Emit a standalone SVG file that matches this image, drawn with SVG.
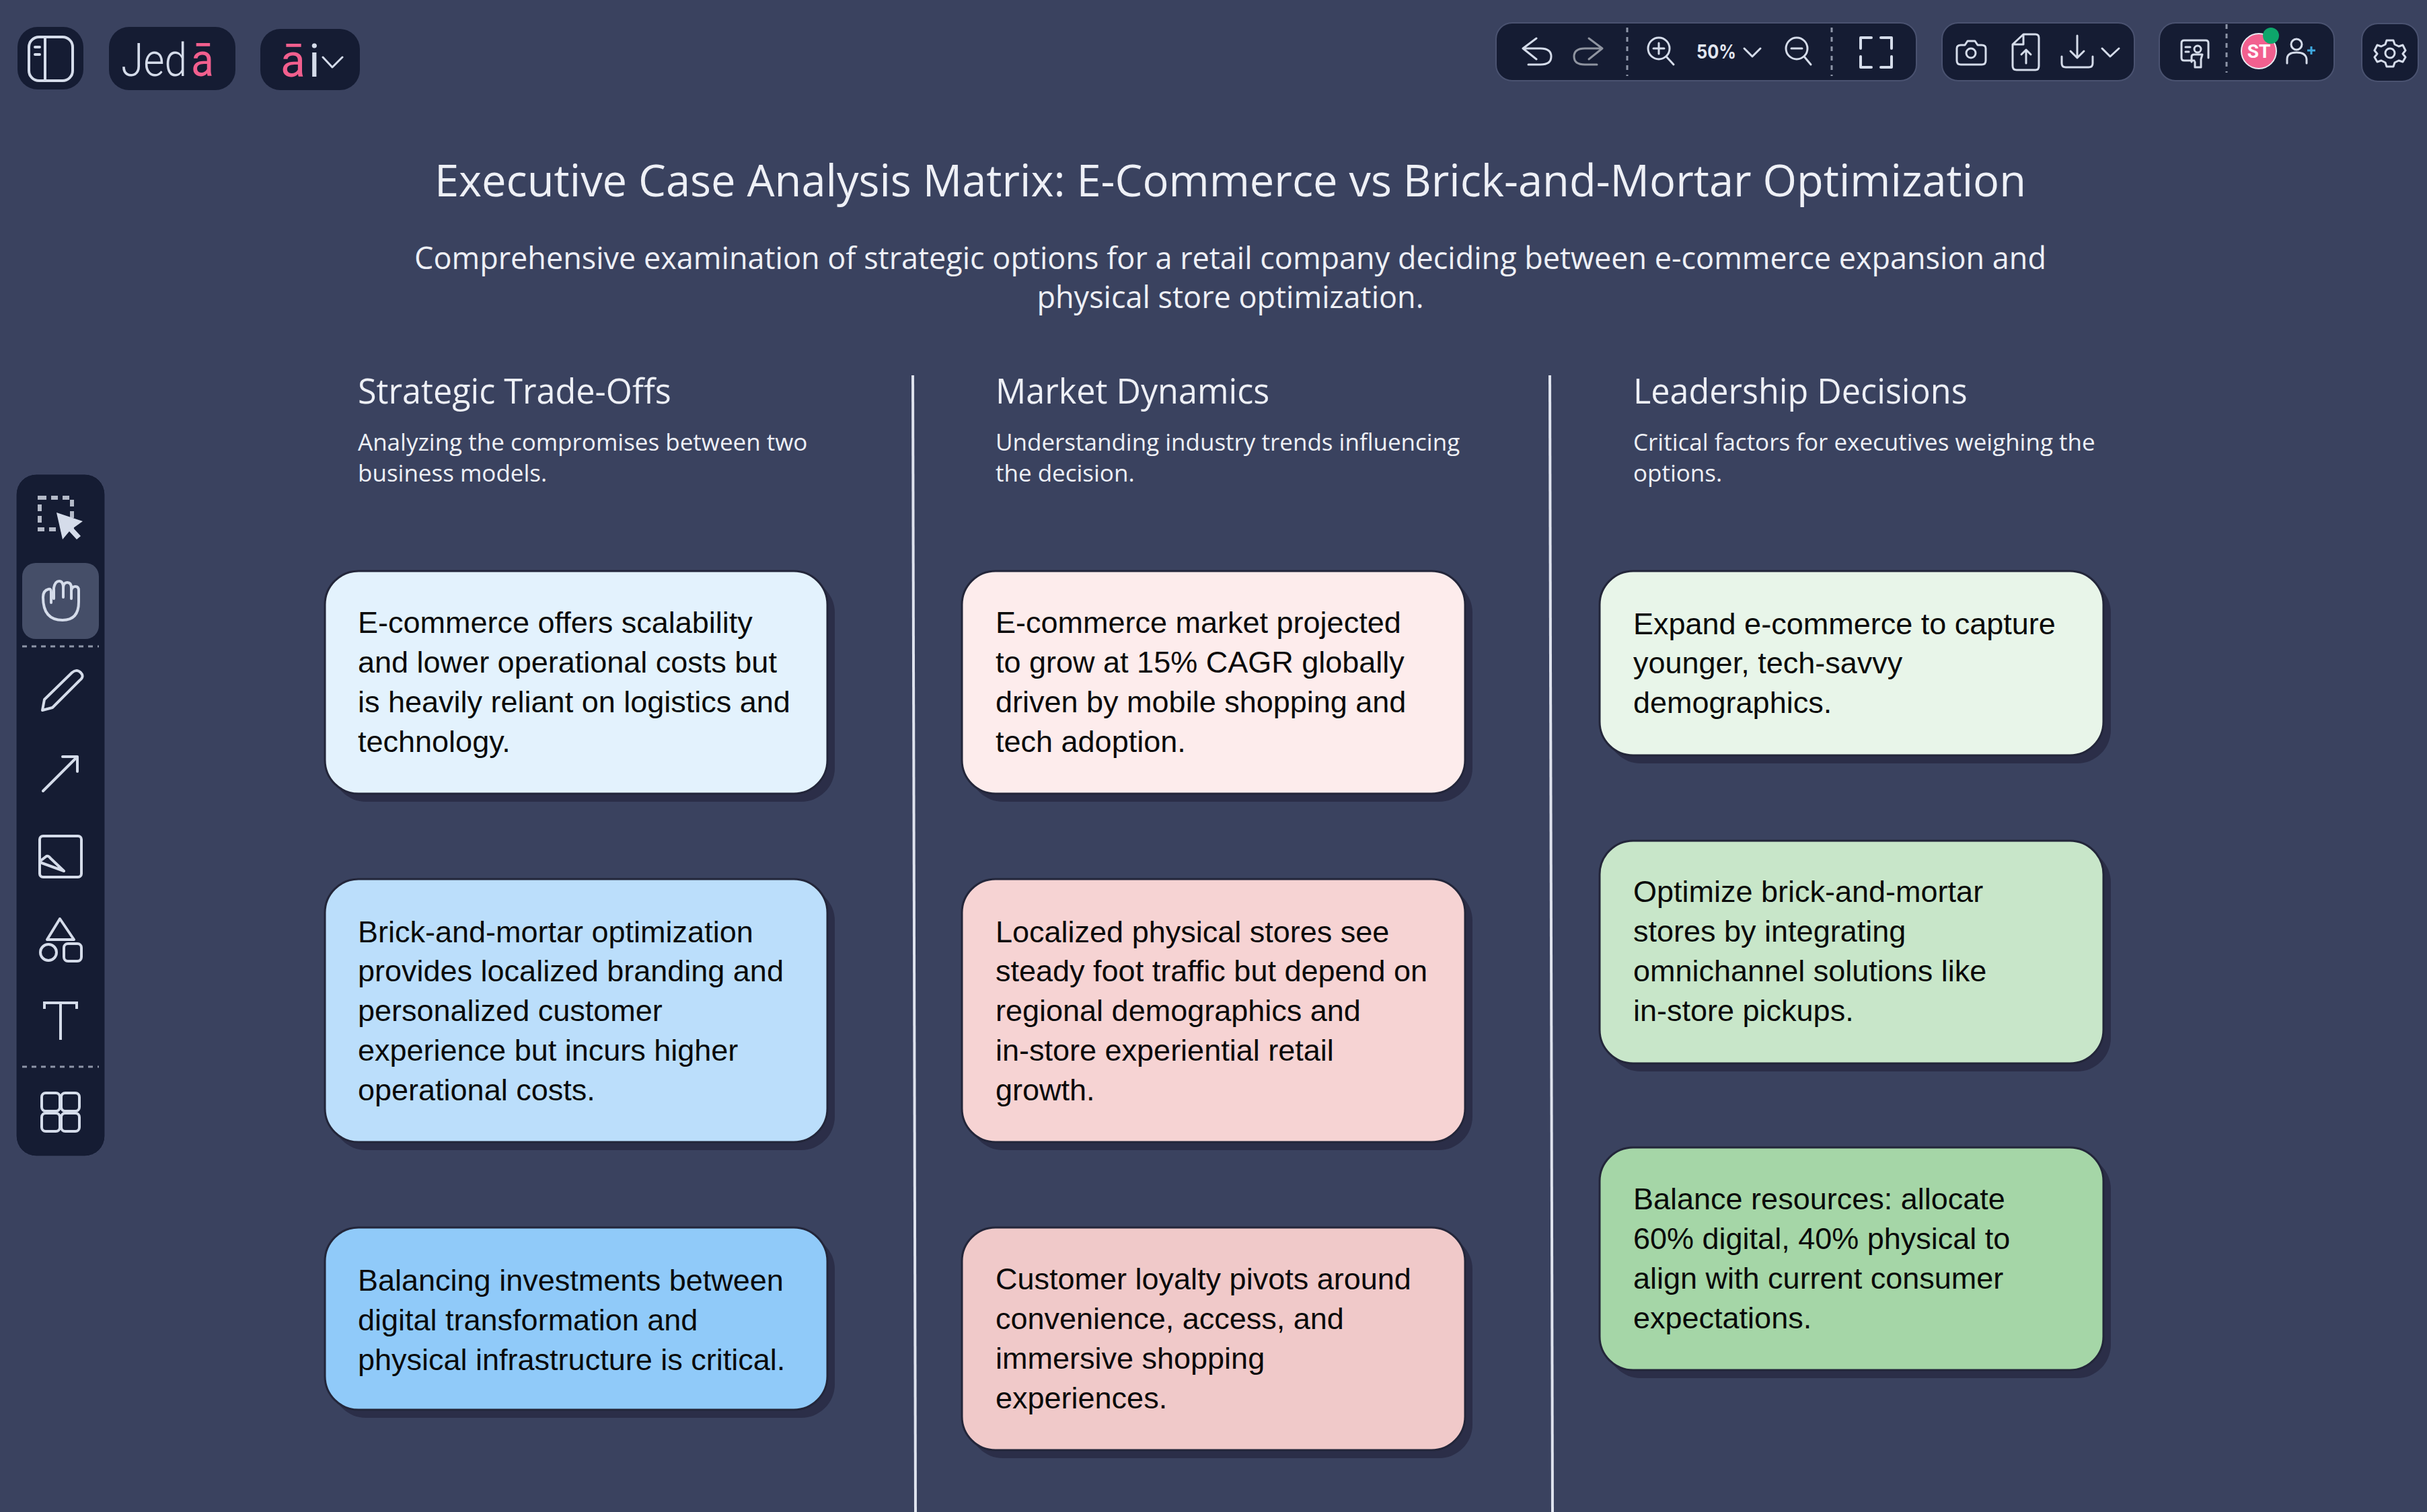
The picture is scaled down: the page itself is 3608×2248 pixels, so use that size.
<svg xmlns="http://www.w3.org/2000/svg" width="3608" height="2248" viewBox="0 0 3608 2248">
<style>
.os{font-family:"Open Sans","Noto Sans",sans-serif;fill:#eef0f6}
.title{font-size:65px;text-anchor:middle}
.sub{font-size:45px;text-anchor:middle}
.hd{font-size:50.3px}
.ds{font-size:35px}
.card{stroke:#23263a;stroke-width:3}
.sh{fill:#2b2e48}
.ct{font-family:"Liberation Sans",Arial,sans-serif;font-size:45px;fill:#0a0a0a}
.panel{fill:#151c33}
.ic{fill:none;stroke:#d5dcea;stroke-width:4;stroke-linecap:round;stroke-linejoin:round}
.ds2{stroke:#8e95a8;stroke-width:3;stroke-dasharray:7 7;fill:none}
.rule{stroke:#dfe3ee;stroke-width:4}
</style>
<rect width="3608" height="2248" fill="#3a425f"/>
<g id="sidebar-toggle"><rect class="panel" x="26" y="40" width="98" height="93" rx="30"/><rect class="ic" x="43" y="55" width="65" height="65" rx="15"/><path class="ic" d="M67 55V120M52 70H59M52 81H59"/></g>
<g id="logo"><rect class="panel" x="162" y="40" width="188" height="94" rx="30"/>
<text x="180" y="113" font-family="Roboto,sans-serif" font-weight="300" font-size="68" fill="#d5dcea" textLength="98" lengthAdjust="spacingAndGlyphs">Jed</text>
<text x="284" y="113" font-family="Roboto,sans-serif" font-weight="400" font-size="68" fill="#f25f8e" textLength="34" lengthAdjust="spacingAndGlyphs">ā</text></g>
<g id="ai-menu"><rect class="panel" x="387" y="43" width="148" height="91" rx="30"/>
<text x="417" y="114" font-family="Roboto,sans-serif" font-weight="400" font-size="68" fill="#f25f8e" textLength="37" lengthAdjust="spacingAndGlyphs">ā</text>
<text x="459" y="114" font-family="Roboto,sans-serif" font-weight="400" font-size="68" fill="#d5dcea">i</text>
<path class="ic" style="stroke-width:3" d="M480 85L494 100L509 85"/></g>
<g id="toolbar-view"><rect class="panel" x="2224" y="34" width="625" height="86" rx="24" stroke="#4a5270" stroke-width="2"/>
<path class="ic" style="stroke-width:3" d="M2284 57L2264 72L2284 88M2264 72H2290Q2306 72 2306 84T2290 96H2272"/>
<path class="ic" style="stroke:#8f94a0;stroke-width:3" d="M2362 57L2382 72L2362 88M2382 72H2356Q2340 72 2340 84T2356 96H2374"/>
<path class="ds2" d="M2419 41V113M2723 41V113"/>
<circle class="ic" style="stroke-width:3" cx="2466" cy="72" r="16"/><path class="ic" style="stroke-width:3" d="M2458 72H2474M2466 64V80M2477 84L2488 96"/>
<text x="2522" y="87" font-family="Inter,Roboto,sans-serif" font-weight="700" font-size="28" fill="#e2e6f0" textLength="59" lengthAdjust="spacingAndGlyphs">50%</text>
<path class="ic" style="stroke-width:3" d="M2593 72L2605 84L2617 72"/>
<circle class="ic" style="stroke-width:3" cx="2671" cy="72" r="16"/><path class="ic" style="stroke-width:3" d="M2663 72H2679M2682 84L2692 96"/>
<path class="ic" d="M2782 56H2766V72M2796 56H2812V72M2782 100H2766V84M2796 100H2812V84"/></g>
<g id="toolbar-export"><rect class="panel" x="2887" y="34" width="286" height="86" rx="24" stroke="#4a5270" stroke-width="2"/>
<path class="ic" style="stroke-width:3" d="M2915 96Q2909 96 2909 90V72Q2909 67 2915 67H2921L2925 61H2936L2940 67H2946Q2952 67 2952 72V90Q2952 96 2946 96Z"/><circle class="ic" style="stroke-width:3" cx="2930" cy="79" r="7"/>
<path class="ic" style="stroke-width:3" d="M3008 51H3026Q3031 51 3031 56V98Q3031 104 3026 104H2998Q2992 104 2992 98V66ZM3008 51V66H2992M3012 94V74M3005 81L3012 74L3019 81"/>
<path class="ic" style="stroke-width:3" d="M3088 53V86M3078 76L3088 86L3098 76M3065 84V94Q3065 100 3071 100H3105Q3111 100 3111 94V84"/>
<path class="ic" style="stroke-width:3" d="M3125 72L3137 84L3150 72"/></g>
<g id="toolbar-user"><rect class="panel" x="3210" y="34" width="260" height="86" rx="24" stroke="#4a5270" stroke-width="2"/>
<path class="ic" style="stroke-width:3" d="M3262 90H3247Q3243 90 3243 86V64Q3243 60 3247 60H3279Q3283 60 3283 64V86M3249 70H3256M3249 77H3254"/><circle class="ic" style="stroke-width:3" cx="3267" cy="73" r="5"/><path class="ic" style="stroke-width:3" d="M3258 92V84Q3258 81 3262 81H3274L3272 88V100H3263V92"/>
<path class="ds2" d="M3310 36V108"/>
<circle cx="3358" cy="76" r="26" fill="#f2608f" stroke="#e8ebf2" stroke-width="2"/>
<text x="3358" y="86" text-anchor="middle" font-family="Roboto,sans-serif" font-weight="700" font-size="28" fill="#fff">ST</text>
<circle cx="3376" cy="53" r="12" fill="#0ea66b"/>
<circle class="ic" style="stroke-width:3" cx="3414" cy="66" r="8"/><path class="ic" style="stroke-width:3" d="M3400 94V88Q3400 78 3414 78T3429 88V94"/>
<path style="stroke:#3fa9e0;stroke-width:3;fill:none" d="M3430 75H3442M3436 69V81"/></g>
<g id="toolbar-settings"><rect class="panel" x="3511" y="35" width="84" height="86" rx="24" stroke="#4a5270" stroke-width="2"/>
<path class="ic" style="stroke-width:3" d="M3548 60H3558L3560 66L3566 69L3572 67L3576 75L3572 80L3576 85L3572 92L3566 90L3560 93L3558 99H3548L3546 93L3540 90L3534 92L3530 85L3534 80L3530 75L3534 67L3540 69L3546 66Z"/><circle class="ic" style="stroke-width:3" cx="3553" cy="79" r="7"/></g>
<g id="tool-palette"><rect class="panel" x="24" y="705" width="132" height="1014" rx="30" stroke="#3f4765" stroke-width="1"/>
<rect x="59" y="740" width="48" height="47" fill="none" stroke="#b4bac8" stroke-width="6" stroke-dasharray="10 7"/>
<path fill="#d5dcea" d="M84 762L123 775L109 785L120 797L114 802L103 790L93 802Z"/>
<rect x="33" y="837" width="114" height="113" rx="20" fill="#454e68"/>
<path class="ic" d="M76 896V880Q76 875 72 876 64 878 64 888 64 922 93 922 117 922 117 895V878Q117 872 112 872T106 878V890M106 878V874Q106 866 100 866T94 874V888M94 874Q94 864 88 864T80 874V890"/>
<path class="ds2" d="M33 961H147"/>
<path class="ic" d="M66 1040L107 1000Q114 994 120 1000T118 1012L78 1052L63 1056Z"/>
<path class="ic" d="M64 1176L115 1125M93 1125H115V1147"/>
<rect class="ic" x="59" y="1243" width="62" height="61" rx="5"/>
<path class="ic" d="M60 1280L69 1273Q72 1272 75 1276L95 1295L62 1283"/>
<path class="ic" d="M89 1366L70 1397H110Z"/><circle class="ic" cx="72" cy="1416" r="12"/><rect class="ic" x="95" y="1403" width="26" height="26" rx="6"/>
<path class="ic" style="stroke-linecap:butt;stroke-linejoin:miter" d="M66 1500V1491H114V1500M90 1491V1546"/>
<path class="ds2" d="M33 1586H147"/>
<rect class="ic" x="62" y="1625" width="27" height="27" rx="6"/><rect class="ic" x="91" y="1625" width="27" height="27" rx="6"/><rect class="ic" x="62" y="1655" width="27" height="27" rx="6"/><rect class="ic" x="91" y="1655" width="27" height="27" rx="6"/></g>
<g id="heading"><text class="os title" x="1829" y="292">Executive Case Analysis Matrix: E-Commerce vs Brick-and-Mortar Optimization</text>
<text class="os sub" x="1829" y="400">Comprehensive examination of strategic options for a retail company deciding between e-commerce expansion and</text>
<text class="os sub" x="1829" y="458">physical store optimization.</text></g>
<g id="connectors"><path class="rule" d="M1357 558L1361 2248"/><path class="rule" d="M2304 558L2308 2248"/></g>
<g id="col1-head"><text class="os hd" x="532" y="600">Strategic Trade-Offs</text><text class="os ds" x="532" y="670">Analyzing the compromises between two</text><text class="os ds" x="532" y="716">business models.</text></g>
<g id="col2-head"><text class="os hd" x="1480" y="600">Market Dynamics</text><text class="os ds" x="1480" y="670">Understanding industry trends influencing</text><text class="os ds" x="1480" y="716">the decision.</text></g>
<g id="col3-head"><text class="os hd" x="2428" y="600">Leadership Decisions</text><text class="os ds" x="2428" y="670">Critical factors for executives weighing the</text><text class="os ds" x="2428" y="716">options.</text></g>
<g id="c1-1"><rect class="sh" x="494" y="861" width="747" height="331" rx="50"/><rect class="card" fill="#e3f2fd" x="483" y="849" width="747" height="331" rx="50"/><text class="ct" x="532" y="941">E-commerce offers scalability</text><text class="ct" x="532" y="1000">and lower operational costs but</text><text class="ct" x="532" y="1059">is heavily reliant on logistics and</text><text class="ct" x="532" y="1118">technology.</text></g>
<g id="c1-2"><rect class="sh" x="494" y="1319" width="747" height="391" rx="50"/><rect class="card" fill="#bbdefb" x="483" y="1307" width="747" height="391" rx="50"/><text class="ct" x="532" y="1401">Brick-and-mortar optimization</text><text class="ct" x="532" y="1459">provides localized branding and</text><text class="ct" x="532" y="1518">personalized customer</text><text class="ct" x="532" y="1577">experience but incurs higher</text><text class="ct" x="532" y="1636">operational costs.</text></g>
<g id="c1-3"><rect class="sh" x="494" y="1837" width="747" height="271" rx="50"/><rect class="card" fill="#90caf9" x="483" y="1825" width="747" height="271" rx="50"/><text class="ct" x="532" y="1919">Balancing investments between</text><text class="ct" x="532" y="1978">digital transformation and</text><text class="ct" x="532" y="2037">physical infrastructure is critical.</text></g>
<g id="c2-1"><rect class="sh" x="1441" y="861" width="748" height="331" rx="50"/><rect class="card" fill="#fdecec" x="1430" y="849" width="748" height="331" rx="50"/><text class="ct" x="1480" y="941">E-commerce market projected</text><text class="ct" x="1480" y="1000">to grow at 15% CAGR globally</text><text class="ct" x="1480" y="1059">driven by mobile shopping and</text><text class="ct" x="1480" y="1118">tech adoption.</text></g>
<g id="c2-2"><rect class="sh" x="1441" y="1319" width="748" height="391" rx="50"/><rect class="card" fill="#f6d3d3" x="1430" y="1307" width="748" height="391" rx="50"/><text class="ct" x="1480" y="1401">Localized physical stores see</text><text class="ct" x="1480" y="1459">steady foot traffic but depend on</text><text class="ct" x="1480" y="1518">regional demographics and</text><text class="ct" x="1480" y="1577">in-store experiential retail</text><text class="ct" x="1480" y="1636">growth.</text></g>
<g id="c2-3"><rect class="sh" x="1441" y="1837" width="748" height="331" rx="50"/><rect class="card" fill="#f0c9c9" x="1430" y="1825" width="748" height="331" rx="50"/><text class="ct" x="1480" y="1917">Customer loyalty pivots around</text><text class="ct" x="1480" y="1976">convenience, access, and</text><text class="ct" x="1480" y="2035">immersive shopping</text><text class="ct" x="1480" y="2094">experiences.</text></g>
<g id="c3-1"><rect class="sh" x="2389" y="861" width="749" height="274" rx="50"/><rect class="card" fill="#e8f5e9" x="2378" y="849" width="749" height="274" rx="50"/><text class="ct" x="2428" y="943">Expand e-commerce to capture</text><text class="ct" x="2428" y="1001">younger, tech-savvy</text><text class="ct" x="2428" y="1060">demographics.</text></g>
<g id="c3-2"><rect class="sh" x="2389" y="1262" width="749" height="331" rx="50"/><rect class="card" fill="#c8e6c9" x="2378" y="1250" width="749" height="331" rx="50"/><text class="ct" x="2428" y="1341">Optimize brick-and-mortar</text><text class="ct" x="2428" y="1400">stores by integrating</text><text class="ct" x="2428" y="1459">omnichannel solutions like</text><text class="ct" x="2428" y="1518">in-store pickups.</text></g>
<g id="c3-3"><rect class="sh" x="2389" y="1718" width="749" height="331" rx="50"/><rect class="card" fill="#a5d6a7" x="2378" y="1706" width="749" height="331" rx="50"/><text class="ct" x="2428" y="1798">Balance resources: allocate</text><text class="ct" x="2428" y="1857">60% digital, 40% physical to</text><text class="ct" x="2428" y="1916">align with current consumer</text><text class="ct" x="2428" y="1975">expectations.</text></g>
</svg>
